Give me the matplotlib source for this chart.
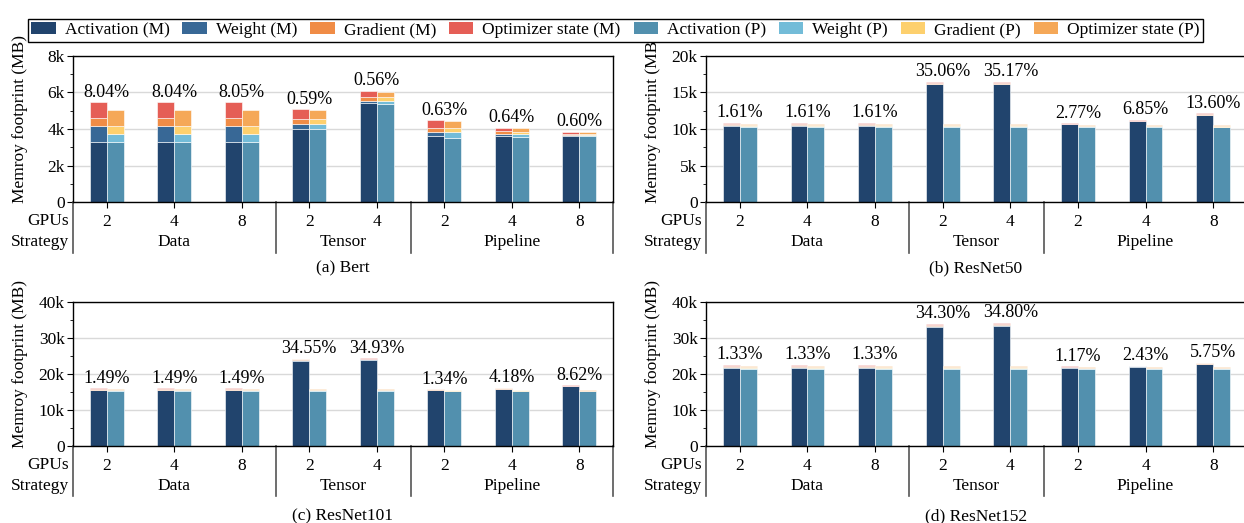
import matplotlib.pyplot as plt
import matplotlib.transforms as mtransforms
from matplotlib.patches import Patch
from matplotlib.ticker import FuncFormatter, MultipleLocator

plt.rcParams['font.family'] = ['Liberation Serif', 'DejaVu Serif']
plt.rcParams['font.size'] = 12.5

# x axis: GPU count inside each parallel strategy
gpus = ['2', '4', '8', '2', '4', '2', '4', '8']
strategies = ['Data', 'Tensor', 'Pipeline']
strategy_center = [1, 3.5, 6]
strategy_edges = [-0.5, 2.5, 4.5, 7.5]

# memory per GPU in MB, (M) and (P) versions
bert_act_m = [3300, 3300, 3300, 3990, 5400, 3610, 3630, 3640]
bert_wt_m = [860, 860, 860, 280, 150, 200, 90, 40]
bert_grad_m = [420, 420, 420, 270, 200, 270, 160, 60]
bert_opt_m = [900, 900, 900, 530, 350, 410, 190, 110]
bert_act_p = [3300, 3300, 3300, 3990, 5350, 3530, 3550, 3610]
bert_wt_p = [450, 450, 450, 280, 200, 280, 170, 50]
bert_grad_p = [410, 410, 410, 270, 180, 220, 130, 80]
bert_opt_p = [880, 880, 880, 500, 310, 420, 200, 90]
bert_pct = ['8.04%', '8.04%', '8.05%', '0.59%', '0.56%', '0.63%', '0.64%', '0.60%']

r50_act_m = [10450, 10450, 10450, 16100, 16120, 10620, 11080, 11900]
r50_wt_m = [100, 100, 100, 100, 100, 50, 40, 40]
r50_grad_m = [100, 100, 100, 100, 100, 50, 40, 60]
r50_opt_m = [200, 200, 200, 180, 180, 80, 100, 130]
r50_act_p = [10300, 10300, 10300, 10300, 10300, 10300, 10300, 10300]
r50_wt_p = [100, 100, 100, 100, 100, 60, 50, 40]
r50_grad_p = [100, 100, 100, 100, 100, 60, 60, 60]
r50_opt_p = [190, 190, 190, 200, 200, 80, 80, 80]
r50_pct = ['1.61%', '1.61%', '1.61%', '35.06%', '35.17%', '2.77%', '6.85%', '13.60%']

r101_act_m = [15500, 15500, 15500, 23730, 23900, 15600, 15790, 16620]
r101_wt_m = [170, 170, 170, 150, 130, 50, 120, 80]
r101_grad_m = [170, 170, 170, 150, 130, 50, 120, 80]
r101_opt_m = [230, 230, 230, 250, 220, 90, 220, 120]
r101_act_p = [15330, 15330, 15330, 15330, 15330, 15330, 15330, 15200]
r101_wt_p = [170, 170, 170, 170, 170, 60, 60, 60]
r101_grad_p = [170, 170, 170, 170, 170, 60, 60, 60]
r101_opt_p = [160, 160, 160, 220, 190, 130, 120, 120]
r101_pct = ['1.49%', '1.49%', '1.49%', '34.55%', '34.93%', '1.34%', '4.18%', '8.62%']

r152_act_m = [21700, 21700, 21700, 33060, 33400, 21800, 22070, 22700]
r152_wt_m = [230, 230, 230, 230, 220, 90, 70, 120]
r152_grad_m = [230, 230, 230, 230, 220, 90, 70, 120]
r152_opt_m = [440, 440, 440, 460, 420, 180, 140, 240]
r152_act_p = [21500, 21500, 21500, 21500, 21500, 21500, 21450, 21420]
r152_wt_p = [230, 230, 230, 230, 230, 100, 90, 110]
r152_grad_p = [230, 230, 230, 230, 230, 100, 90, 110]
r152_opt_p = [340, 340, 340, 360, 380, 200, 180, 210]
r152_pct = ['1.33%', '1.33%', '1.33%', '34.30%', '34.80%', '1.17%', '2.43%', '5.75%']

names = ['Activation', 'Weight', 'Gradient', 'Optimizer state']
colors_m = ['#21446d', '#386896', '#f08c46', '#e55e56']
colors_p = ['#5290ae', '#73bcd8', '#fdd06e', '#f5a858']


def k_fmt(v, _):
    return '0' if v == 0 else f'{v / 1000:g}k'


def draw(ax, parts_m, parts_p, pct, ymax, step):
    w = 0.25
    x = list(range(len(gpus)))
    tops = []
    for parts, off, cols in [(parts_m, -w / 2, colors_m), (parts_p, w / 2, colors_p)]:
        bottom = [0] * len(x)
        for vals, c in zip(parts, cols):
            ax.bar([i + off for i in x], vals, w, bottom=bottom, color=c,
                   edgecolor='white', linewidth=0.4, zorder=2)
            bottom = [b + v for b, v in zip(bottom, vals)]
        tops.append(bottom)

    for i in x:
        ax.annotate(pct[i], (i, max(tops[0][i], tops[1][i])), xytext=(0, 1),
                    textcoords='offset points', ha='center', va='bottom', fontsize=13)

    ax.set_xlim(-0.5, 7.5)
    ax.set_ylim(0, ymax)
    ax.yaxis.set_major_locator(MultipleLocator(step))
    ax.yaxis.set_minor_locator(MultipleLocator(step / 2))
    ax.yaxis.set_major_formatter(FuncFormatter(k_fmt))
    ax.grid(axis='y', color='#d9d9d9', linewidth=1, zorder=0)
    ax.set_axisbelow(True)
    ax.set_xticks(x)
    ax.set_xticklabels(gpus)
    ax.tick_params(axis='x', length=4, pad=5)
    ax.tick_params(axis='y', which='major', length=4, pad=2)
    ax.tick_params(axis='y', which='minor', length=2)
    ax.set_ylabel('Memroy footprint (MB)')
    ax.yaxis.set_label_coords(-0.083, 0.57)
    for s in ax.spines.values():
        s.set_linewidth(1.0)

    # strategy row below the GPU ticks
    trans = mtransforms.blended_transform_factory(ax.transData, ax.transAxes)
    for e in strategy_edges:
        ax.plot([e, e], [0, -0.35], transform=trans, clip_on=False,
                color='#555555', linewidth=1.2)
    for c, s in zip(strategy_center, strategies):
        ax.text(c, -0.275, s, transform=trans, ha='center', va='center')
    ax.text(-0.008, -0.13, 'GPUs', transform=ax.transAxes, ha='right', va='center')
    ax.text(-0.008, -0.275, 'Strategy', transform=ax.transAxes, ha='right', va='center')


fig = plt.figure(figsize=(12.44, 5.23), dpi=100)
W, H = 1244, 523
ax_a = fig.add_axes([73 / W, (H - 202) / H, 540 / W, 146 / H])
ax_b = fig.add_axes([706 / W, (H - 202) / H, 541 / W, 146 / H])
ax_c = fig.add_axes([73 / W, (H - 446) / H, 540 / W, 144 / H])
ax_d = fig.add_axes([706 / W, (H - 446) / H, 541 / W, 144 / H])

draw(ax_a, [bert_act_m, bert_wt_m, bert_grad_m, bert_opt_m],
     [bert_act_p, bert_wt_p, bert_grad_p, bert_opt_p], bert_pct, 8000, 2000)
draw(ax_b, [r50_act_m, r50_wt_m, r50_grad_m, r50_opt_m],
     [r50_act_p, r50_wt_p, r50_grad_p, r50_opt_p], r50_pct, 20000, 5000)
draw(ax_c, [r101_act_m, r101_wt_m, r101_grad_m, r101_opt_m],
     [r101_act_p, r101_wt_p, r101_grad_p, r101_opt_p], r101_pct, 40000, 10000)
draw(ax_d, [r152_act_m, r152_wt_m, r152_grad_m, r152_opt_m],
     [r152_act_p, r152_wt_p, r152_grad_p, r152_opt_p], r152_pct, 40000, 10000)

fig.text(343 / W, 1 - 268 / H, '(a) Bert', ha='center', va='center')
fig.text(976 / W, 1 - 268 / H, '(b) ResNet50', ha='center', va='center')
fig.text(343 / W, 1 - 516 / H, '(c) ResNet101', ha='center', va='center')
fig.text(976 / W, 1 - 516 / H, '(d) ResNet152', ha='center', va='center')

handles = [Patch(facecolor=c, label=f'{n} (M)') for n, c in zip(names, colors_m)]
handles += [Patch(facecolor=c, label=f'{n} (P)') for n, c in zip(names, colors_p)]
leg = fig.legend(handles=handles, ncol=8, loc='upper center', bbox_to_anchor=(0.4948, 0.981),
                 frameon=True, fancybox=False, edgecolor='black', framealpha=1,
                 fontsize=12.5, handlelength=1.4, handleheight=0.7,
                 handletextpad=0.52, columnspacing=0.75, borderpad=0.2)
leg.get_frame().set_linewidth(1.0)

fig.savefig('out.png', dpi=100)
